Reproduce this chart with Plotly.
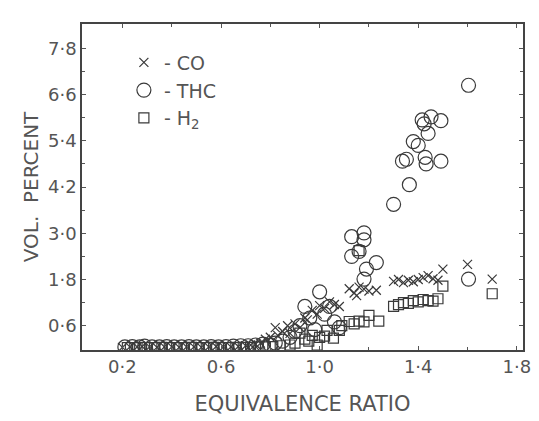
import plotly.graph_objects as go

# ---- data ----
co_x = [0.20, 0.23, 0.26, 0.28, 0.31, 0.34, 0.37, 0.40, 0.43, 0.46, 0.49, 0.52,
        0.55, 0.58, 0.61, 0.64, 0.67, 0.70, 0.72, 0.74, 0.76, 0.78, 0.80, 0.82,
        0.83, 0.85, 0.87, 0.88, 0.90, 0.92, 0.94, 0.95, 0.97, 0.99, 1.00, 1.02,
        1.04, 1.06, 1.08, 1.12, 1.14, 1.15, 1.16, 1.18, 1.20, 1.23, 1.30, 1.32,
        1.34, 1.36, 1.38, 1.40, 1.42, 1.44, 1.46, 1.48, 1.50, 1.60, 1.70]
co_y = [0.04, 0.05, 0.05, 0.06, 0.05, 0.04, 0.05, 0.05, 0.04, 0.05, 0.05, 0.04,
        0.05, 0.06, 0.05, 0.05, 0.06, 0.08, 0.10, 0.12, 0.15, 0.25, 0.30, 0.55,
        0.35, 0.45, 0.60, 0.40, 0.65, 0.55, 0.80, 0.75, 1.00, 0.90, 1.12, 1.05,
        1.22, 1.15, 1.10, 1.56, 1.45, 1.38, 1.60, 1.55, 1.50, 1.52, 1.75, 1.80,
        1.72, 1.78, 1.74, 1.80, 1.85, 1.90, 1.82, 1.78, 2.07, 2.19, 1.81]

thc_x = [0.21, 0.24, 0.27, 0.29, 0.32, 0.35, 0.38, 0.41, 0.44, 0.47, 0.50, 0.53,
         0.56, 0.59, 0.62, 0.65, 0.68, 0.71, 0.74, 0.77, 0.80, 0.82, 0.85, 0.88,
         0.90, 0.92, 0.94, 0.96, 0.98, 1.00, 1.02, 1.04, 1.06, 1.08, 1.13, 1.13,
         1.16, 1.18, 1.18, 1.19, 1.23, 1.18, 1.30, 1.336, 1.352, 1.364, 1.38, 1.40,
         1.416, 1.424, 1.428, 1.432, 1.44, 1.452, 1.492, 1.492, 1.604, 1.604]
thc_y = [0.05, 0.06, 0.05, 0.07, 0.05, 0.05, 0.06, 0.05, 0.05, 0.06, 0.05, 0.05,
         0.06, 0.05, 0.06, 0.07, 0.08, 0.08, 0.10, 0.12, 0.10, 0.15, 0.20, 0.30,
         0.45, 0.60, 1.10, 0.80, 0.50, 1.48, 0.90, 1.10, 0.70, 0.55, 2.40, 2.91,
         2.53, 3.01, 2.83, 2.07, 2.24, 1.81, 3.75, 4.87, 4.92, 4.26, 5.38, 5.28,
         5.94, 5.84, 4.97, 4.80, 5.59, 6.02, 5.92, 4.87, 6.84, 1.81]

h2_x = [0.22, 0.25, 0.27, 0.30, 0.33, 0.36, 0.39, 0.42, 0.45, 0.48, 0.51, 0.54,
        0.57, 0.60, 0.63, 0.66, 0.69, 0.72, 0.75, 0.78, 0.81, 0.84, 0.88, 0.90,
        0.92, 0.94, 0.956, 0.97, 0.99, 1.00, 1.02, 1.03, 1.056, 1.08, 1.09, 1.12,
        1.14, 1.16, 1.16, 1.18, 1.20, 1.24, 1.30, 1.32, 1.34, 1.36, 1.38, 1.40,
        1.42, 1.44, 1.46, 1.48, 1.50, 1.70]
h2_y = [0.03, 0.03, 0.04, 0.03, 0.03, 0.04, 0.03, 0.03, 0.03, 0.04, 0.03, 0.03,
        0.04, 0.03, 0.03, 0.04, 0.04, 0.04, 0.05, 0.05, 0.06, 0.08, 0.10, 0.15,
        0.41, 0.25, 0.20, 0.35, 0.10, 0.30, 0.33, 0.48, 0.28, 0.48, 0.60, 0.71,
        0.65, 0.72, 2.55, 0.70, 0.87, 0.72, 1.10, 1.15, 1.20, 1.18, 1.25, 1.22,
        1.28, 1.25, 1.24, 1.30, 1.63, 1.43]

x_tickvals = [0.2, 0.6, 1.0, 1.4, 1.8]
x_ticktext = ["0·2", "0·6", "1·0", "1·4", "1·8"]
x_minorvals = [0.4, 0.8, 1.2, 1.6]
y_tickvals = [0.6, 1.8, 3.0, 4.2, 5.4, 6.6, 7.8]
y_ticktext = ["0·6", "1·8", "3·0", "4·2", "5·4", "6·6", "7·8"]
y_minorvals = [1.2, 2.4, 3.6, 4.8, 6.0, 7.2]

ink = "#3a3a3a"
fig = go.Figure()
fig.add_trace(go.Scatter(x=co_x, y=co_y, mode="markers", name="- CO",
                         marker=dict(symbol="x-thin-open", size=9, color=ink,
                                     line=dict(color=ink, width=1.2))))
fig.add_trace(go.Scatter(x=thc_x, y=thc_y, mode="markers", name="- THC",
                         marker=dict(symbol="circle-open", size=14, color=ink,
                                     line=dict(color=ink, width=1.2))))
fig.add_trace(go.Scatter(x=h2_x, y=h2_y, mode="markers", name="- H<sub>2</sub>",
                         marker=dict(symbol="square-open", size=10, color=ink,
                                     line=dict(color=ink, width=1.2))))

axis_font = dict(family="DejaVu Sans", size=18, color="#555")
fig.update_layout(
    width=539, height=421,
    margin=dict(l=82, r=8, t=24, b=71),
    paper_bgcolor="white", plot_bgcolor="white",
    showlegend=True,
    font=dict(family="DejaVu Sans", color="#555"),
    legend=dict(x=0.095, y=0.94, xanchor="left", yanchor="top",
                font=dict(size=19, color="#555"), bgcolor="rgba(0,0,0,0)",
                itemwidth=30),
    xaxis=dict(range=[0.036, 1.825], tickvals=x_tickvals, ticktext=x_ticktext,
               ticks="inside", ticklen=4, tickcolor="#555", showgrid=False,
               minor=dict(tickvals=x_minorvals, ticks="inside", ticklen=3,
                          tickcolor="#555", showgrid=False),
               zeroline=False, showline=True, linecolor="#444", linewidth=1.5,
               mirror="ticks", tickfont=axis_font,
               title=dict(text="EQUIVALENCE RATIO", standoff=20,
                          font=dict(size=21, color="#555"))),
    yaxis=dict(range=[-0.03, 8.43], tickvals=y_tickvals, ticktext=y_ticktext,
               ticks="inside", ticklen=4, tickcolor="#555", showgrid=False,
               minor=dict(tickvals=y_minorvals, ticks="inside", ticklen=3,
                          tickcolor="#555", showgrid=False),
               zeroline=False, showline=True, linecolor="#444", linewidth=1.5,
               mirror="ticks", tickfont=axis_font,
               title=dict(text="VOL.  PERCENT", standoff=4,
                          font=dict(size=20, color="#555"))),
)

fig.write_html("out.html")
